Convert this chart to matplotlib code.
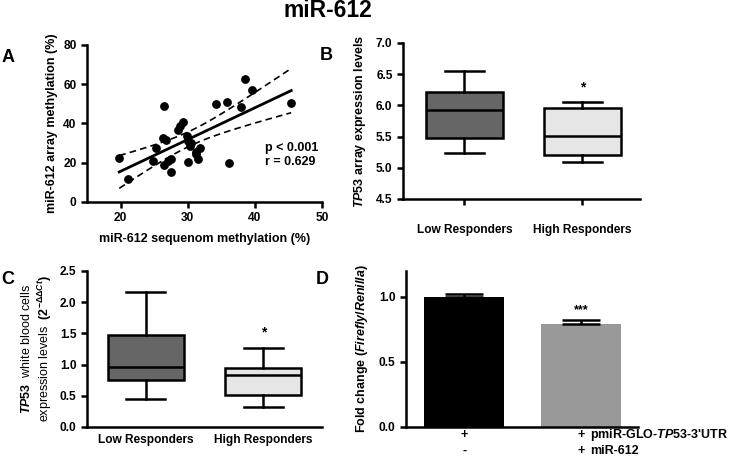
import numpy as np
import matplotlib
matplotlib.use("Agg")
import matplotlib.pyplot as plt

plt.rcParams['font.family'] = ['Liberation Sans', 'DejaVu Sans']
plt.rcParams['font.weight'] = 'bold'
plt.rcParams['mathtext.fontset'] = 'custom'
plt.rcParams['mathtext.rm'] = 'Liberation Sans:bold'
plt.rcParams['mathtext.it'] = 'Liberation Sans:bold:italic'
plt.rcParams['mathtext.bf'] = 'Liberation Sans:bold'

# ---------------- data ----------------
# Panel A: scatter
seq_meth = [19.8, 21.1, 24.8, 25.3, 26.5, 26.3, 26.8, 26.5, 27.1, 27.5, 27.5, 28.5,
            28.9, 29.3, 29.9, 30.1, 30.3, 30.1, 30.5, 31.2, 31.2, 31.6, 31.8, 34.2,
            35.9, 36.2, 37.9, 38.6, 39.5, 45.4]
array_meth = [22.3, 11.9, 20.8, 27.3, 49.1, 32.8, 31.4, 19.1, 20.8, 22.0, 15.4, 36.5,
              38.6, 40.8, 33.5, 31.2, 28.5, 20.5, 30.0, 25.6, 24.2, 21.7, 27.5, 50.0,
              51.2, 20.1, 48.6, 62.9, 57.0, 50.2]
stats_text = ["p < 0.001", "r = 0.629"]

# Panel B: box stats (whislo, q1, med, q3, whishi)
groups = ["Low Responders", "High Responders"]
b_stats = [[5.23, 5.47, 5.92, 6.21, 6.55],
           [5.09, 5.21, 5.51, 5.95, 6.05]]
# Panel C
c_stats = [[0.45, 0.75, 0.96, 1.47, 2.17],
           [0.32, 0.52, 0.84, 0.94, 1.27]]
box_colors = ["#666666", "#e6e6e6"]

# Panel D: bars
d_values = [1.00, 0.79]
d_errors = [0.02, 0.035]
d_colors = ["#000000", "#999999"]
d_row1 = ["+", "+"]
d_row2 = ["-", "+"]
d_row_labels = [r"pmiR-GLO-$\it{TP53}$-3'UTR", "miR-612"]

fig = plt.figure(figsize=(7.4, 4.62), dpi=100)

def style(ax):
    for s in ['top', 'right']:
        ax.spines[s].set_visible(False)
    for s in ['left', 'bottom']:
        ax.spines[s].set_linewidth(1.8)
    ax.tick_params(width=1.8, length=4, labelsize=8.6)
    for lab in ax.get_xticklabels() + ax.get_yticklabels():
        lab.set_fontweight('bold')

# ---------- A ----------
axA = fig.add_axes([0.1176, 0.5628, 0.3176, 0.3398])
x = np.array(seq_meth); y = np.array(array_meth)
axA.scatter(x, y, s=28, color='black', zorder=3)
slope, inter = np.polyfit(x, y, 1)
xs = np.linspace(x.min(), x.max(), 100)
yfit = slope * xs + inter
n = len(x)
resid = y - (slope * x + inter)
s_err = np.sqrt(np.sum(resid ** 2) / (n - 2))
tval = 2.048
ci = tval * s_err * np.sqrt(1 / n + (xs - x.mean()) ** 2 / np.sum((x - x.mean()) ** 2))
axA.plot(xs, yfit, color='black', lw=2)
axA.plot(xs, yfit + ci, color='black', lw=1.2, ls=(0, (4, 2.5)))
axA.plot(xs, yfit - ci, color='black', lw=1.2, ls=(0, (4, 2.5)))
axA.set_xlim(15, 50)
axA.set_ylim(0, 80)
axA.set_xticks([20, 30, 40, 50])
axA.set_yticks([0, 20, 40, 60, 80])
axA.set_xlabel("miR-612 sequenom methylation (%)", fontsize=9, fontweight='bold', labelpad=6)
axA.set_ylabel("miR-612 array methylation (%)", fontsize=9, fontweight='bold', labelpad=4)
axA.text(0.757, 0.30, stats_text[0] + "\n" + stats_text[1], transform=axA.transAxes,
         fontsize=9, fontweight='bold', va='center', ha='left', linespacing=1.3)
style(axA)

def boxes(ax, stats):
    bx = []
    for st in stats:
        bx.append(dict(whislo=st[0], q1=st[1], med=st[2], q3=st[3], whishi=st[4], fliers=[]))
    res = ax.bxp(bx, positions=[0, 1], widths=0.65, patch_artist=True, showfliers=False,
                 boxprops=dict(linewidth=1.8, edgecolor='black'),
                 medianprops=dict(color='black', linewidth=1.8),
                 whiskerprops=dict(linewidth=1.8),
                 capprops=dict(linewidth=1.8), capwidths=0.33)
    for p, c in zip(res['boxes'], box_colors):
        p.set_facecolor(c)

# ---------- B ----------
axB = fig.add_axes([0.5446, 0.5693, 0.3203, 0.3377])
boxes(axB, b_stats)
axB.set_xlim(-0.52, 1.49)
axB.set_ylim(4.5, 7.0)
axB.set_yticks([4.5, 5.0, 5.5, 6.0, 6.5, 7.0])
axB.set_xticks([0, 1])
axB.set_xticklabels(groups)
axB.text(1, b_stats[1][4] + 0.12, "*", ha='center', va='bottom', fontsize=10, fontweight='bold')
axB.set_ylabel(r"$\it{TP53}$ array expression levels", fontsize=9, fontweight='bold', labelpad=6)
style(axB)
axB.tick_params(axis='x', pad=14)

# ---------- C ----------
axC = fig.add_axes([0.1176, 0.0758, 0.3176, 0.3377])
boxes(axC, c_stats)
axC.set_xlim(-0.5, 1.5)
axC.set_ylim(0, 2.5)
axC.set_yticks([0, 0.5, 1.0, 1.5, 2.0, 2.5])
axC.set_xticks([0, 1])
axC.set_xticklabels(groups)
axC.text(1, c_stats[1][4] + 0.13, "*", ha='center', va='bottom', fontsize=10, fontweight='bold')
axC.set_ylabel("$\\it{TP53}$  white blood cells\nexpression levels  $(2^{-\\Delta\\Delta Ct})$",
               fontsize=9, labelpad=4)
style(axC)
axC.tick_params(axis='x', length=0, pad=5)

# ---------- D ----------
axD = fig.add_axes([0.5486, 0.0758, 0.3135, 0.3377])
pos = np.arange(len(d_values))
axD.bar(pos, d_values, width=0.69, color=d_colors)
axD.errorbar(pos, d_values, yerr=[np.zeros(len(d_errors)), d_errors], fmt='none',
             ecolor='black', elinewidth=1.8, capsize=14, capthick=1.8)
axD.set_xlim(-0.5, 1.49)
axD.set_ylim(0, 1.2)
axD.set_yticks([0, 0.5, 1.0])
axD.set_xticks(pos)
axD.set_xticklabels([])
axD.text(1, d_values[1] + d_errors[1] + 0.03, "***", ha='center', va='bottom', fontsize=9, fontweight='bold')
axD.set_ylabel(r"Fold change ($\it{Firefly}$/$\it{Renilla}$)", fontsize=9, fontweight='bold', labelpad=6)
style(axD)
axD.tick_params(axis='x', length=0)
for i in pos:
    axD.text(i, -0.05, d_row1[i], transform=axD.get_xaxis_transform(), ha='center', va='center',
             fontsize=9, fontweight='bold')
    axD.text(i, -0.155, d_row2[i], transform=axD.get_xaxis_transform(), ha='center', va='center',
             fontsize=9, fontweight='bold')
axD.text(1.08, -0.05, d_row_labels[0], transform=axD.get_xaxis_transform(), ha='left', va='center',
         fontsize=9, fontweight='bold')
axD.text(1.08, -0.155, d_row_labels[1], transform=axD.get_xaxis_transform(), ha='left', va='center',
         fontsize=9, fontweight='bold')

# ---------- titles & panel letters ----------
fig.text(328 / 740, 1 - 10.5 / 462, "miR-612", ha='center', va='center', fontsize=16.5, fontweight='bold')
fig.text(8 / 740, 1 - 58 / 462, "A", fontsize=13, fontweight='bold', va='center', ha='center')
fig.text(326 / 740, 1 - 56 / 462, "B", fontsize=13, fontweight='bold', va='center', ha='center')
fig.text(8 / 740, 1 - 279 / 462, "C", fontsize=13, fontweight='bold', va='center', ha='center')
fig.text(322 / 740, 1 - 279 / 462, "D", fontsize=13, fontweight='bold', va='center', ha='center')

fig.savefig("out.png", dpi=100)
